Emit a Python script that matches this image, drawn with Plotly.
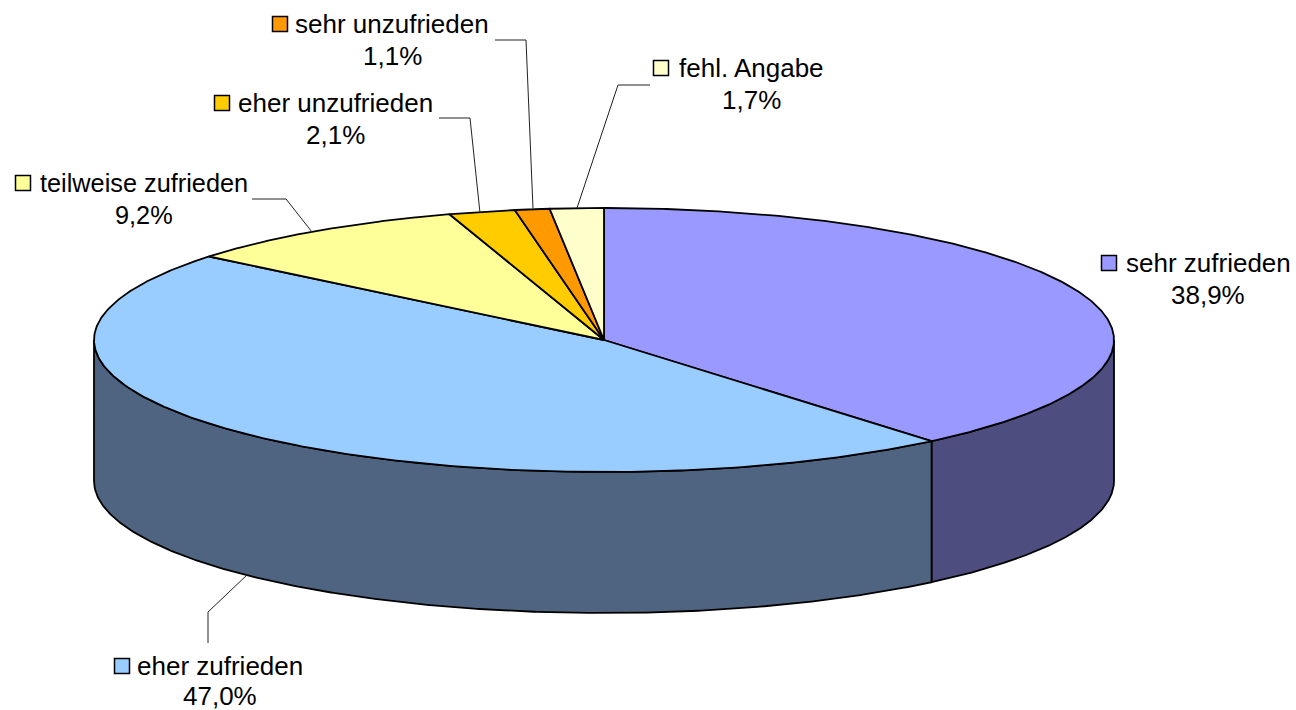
import numpy as np
import plotly.graph_objects as go

# Data
categories = ["sehr zufrieden", "eher zufrieden", "teilweise zufrieden",
              "eher unzufrieden", "sehr unzufrieden", "fehl. Angabe"]
values = [38.9, 47.0, 9.2, 2.1, 1.1, 1.7]
value_labels = ["38,9%", "47,0%", "9,2%", "2,1%", "1,1%", "1,7%"]

# Styles
top_colors = ["#9999FF", "#99CCFF", "#FFFF99", "#FFCC00", "#FF9900", "#FFFFCC"]
side_colors = ["#4D4D80", "#4F6480", "#808050", "#806600", "#804D00", "#808066"]
label_sizes = [26, 26, 25.3, 26, 26, 26]

# Pie geometry (plot pixels)
CX, CY, RX, RY, DEPTH = 604.0, 340.0, 510.0, 132.0, 141.0

# Label layout: key x/y, text centre x, line 1 y, line 2 y
key_x = [1109, 122, 23, 222, 280, 661]
key_y = [263, 666, 183, 103, 24, 68]
text_x = [1208, 220, 144, 335, 392, 751]
line1_y = [263, 666, 183, 103, 24, 68]
line2_y = [295, 695.5, 215, 135, 56, 100]
leaders = {
    1: ([248, 208, 208], [574, 612, 643]),
    2: ([252, 286, 312], [199, 199, 232]),
    3: ([439, 470, 480], [118, 118, 213]),
    4: ([495, 526, 533], [40, 40, 209]),
    5: ([650, 618, 577], [85, 85, 208]),
}


def ell(theta, dy=0.0):
    return CX + RX * np.sin(theta), CY - RY * np.cos(theta) + dy


fig = go.Figure()
edges = np.cumsum([0.0] + values) / sum(values) * 2 * np.pi
N = 400

# Visible side walls
for i in range(len(values)):
    a = max(edges[i], np.pi / 2)
    b = min(edges[i + 1], 3 * np.pi / 2)
    if b <= a:
        continue
    t = np.linspace(a, b, N)
    x1, y1 = ell(t)
    x2, y2 = ell(t[::-1], DEPTH)
    fig.add_trace(go.Scatter(
        x=np.r_[x1, x2, x1[0]], y=np.r_[y1, y2, y1[0]], mode="lines",
        fill="toself", fillcolor=side_colors[i],
        line=dict(color="#000000", width=1.8), hoverinfo="skip"))

# Top faces
for i in range(len(values)):
    t = np.linspace(edges[i], edges[i + 1], N)
    x1, y1 = ell(t)
    fig.add_trace(go.Scatter(
        x=np.r_[CX, x1, CX], y=np.r_[CY, y1, CY], mode="lines",
        fill="toself", fillcolor=top_colors[i],
        line=dict(color="#000000", width=1.8), hoverinfo="skip"))

# Leader lines
for i, (lx, ly) in leaders.items():
    fig.add_trace(go.Scatter(x=lx, y=ly, mode="lines",
                             line=dict(color="#222222", width=1), hoverinfo="skip"))

# Legend keys
fig.add_trace(go.Scatter(
    x=key_x, y=key_y, mode="markers", hoverinfo="skip",
    marker=dict(symbol="square", size=15, color=top_colors,
                line=dict(color="#000000", width=1.5))))

# Text labels
for i in range(len(values)):
    font = dict(family="Liberation Sans, Arial, sans-serif", size=label_sizes[i], color="#000000")
    for txt, yy in ((categories[i], line1_y[i]), (value_labels[i], line2_y[i])):
        fig.add_annotation(x=text_x[i], y=yy, text=txt, showarrow=False,
                           xanchor="center", yanchor="middle", font=font)

fig.update_layout(
    width=1296, height=710, margin=dict(l=0, r=0, t=0, b=0),
    paper_bgcolor="#FFFFFF", plot_bgcolor="#FFFFFF", showlegend=False,
    xaxis=dict(range=[0, 1296], visible=False, fixedrange=True),
    yaxis=dict(range=[710, 0], visible=False, fixedrange=True),
)
fig.write_html("out.html", config=dict(displayModeBar=False),
               post_script="document.body.style.margin='0';")
